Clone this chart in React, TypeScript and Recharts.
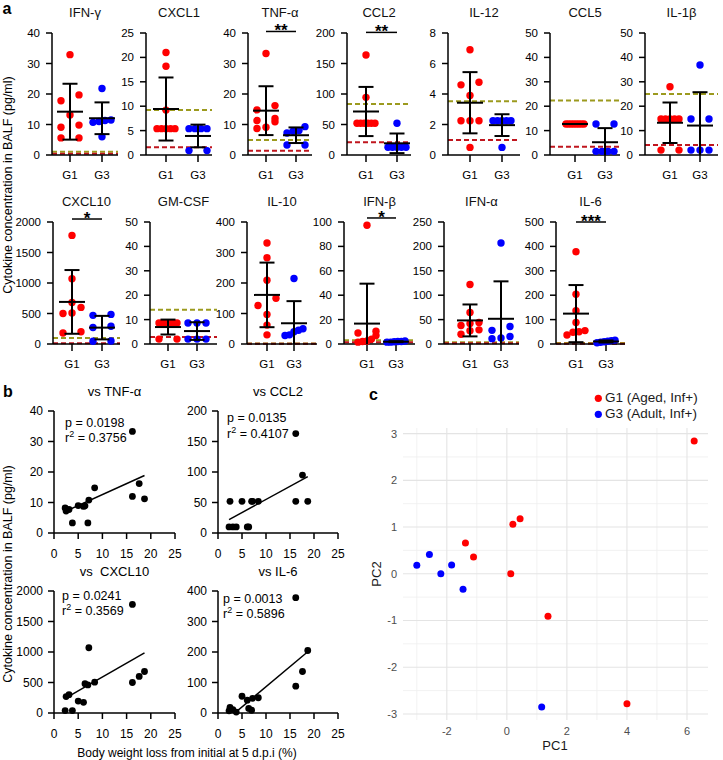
import { ScatterChart, Scatter, XAxis, YAxis, ReferenceLine } from "recharts";

const FONT = "'Liberation Sans', Arial, Helvetica, sans-serif";
const RED = "#ff0000";
const BLUE = "#0000ff";
const OLIVE = "#9c9a1e";
const MAROON = "#c0161e";

// ---------- a: BALF cytokines, G1 vs G3 ----------
const groupLabels = ["G1", "G3"];
const cytokines = ["IFN-γ", "CXCL1", "TNF-α", "CCL2", "IL-12", "CCL5", "IL-1β", "CXCL10", "GM-CSF", "IL-10", "IFN-β", "IFN-α", "IL-6"];
const yMax = [40, 25, 40, 200, 8, 50, 50, 2000, 50, 400, 100, 250, 500];
const yStep = [10, 5, 10, 50, 2, 10, 10, 500, 10, 100, 20, 50, 100];

const g1Values: number[][] = [
  [32.9, 19.7, 17.8, 13.1, 9.8, 9.1, 5.6, 5.6],
  [21.0, 18.2, 9.2, 5.4, 5.4, 5.4, 5.4, 5.4],
  [33.3, 16.2, 14.8, 12.0, 11.3, 10.9, 9.1, 8.7],
  [164, 94.5, 52, 52, 52, 52, 52, 52],
  [6.9, 4.77, 4.6, 3.9, 2.25, 2.25, 2.25, 0.5],
  [12.7, 12.7, 12.7, 12.7, 12.7, 12.7, 12.7, 12.7],
  [28, 14.75, 14.75, 14.75, 14.75, 14.75, 2, 2],
  [1780, 1070, 680, 600, 510, 500, 200, 180],
  [8.6, 8.6, 8.6, 8.6, 8.6, 8.6, 2, 2],
  [331, 283, 209, 150, 126, 97, 62, 30],
  [97.3, 10.5, 9, 7, 4, 2.5, 2, 1.5],
  [122, 64.5, 44, 42, 38, 29, 27, 20],
  [378, 204, 136, 88, 55, 50, 48, 37],
];
const g3Values: number[][] = [
  [21.8, 11.5, 11.3, 11.0, 10.7, 6.0],
  [5.4, 5.4, 5.4, 5.4, 0.9, 0.9],
  [9.3, 8.0, 7.8, 7.2, 3.3, 3.3],
  [52, 12.6, 12.6, 12.6, 12.6, 12.6],
  [2.25, 2.25, 2.25, 2.25, 2.25, 0.5],
  [12.7, 12.7, 1.5, 1.5, 1.5, 1.5],
  [36.9, 14.75, 14.75, 2, 2, 2],
  [485, 470, 290, 270, 50, 45],
  [8.6, 8.6, 8.6, 2, 2, 2],
  [215, 50, 45, 40, 30, 28],
  [2.5, 2, 2, 1.8, 1.5, 1.5],
  [207, 36, 28, 15.5, 12.5, 11],
  [16, 14, 11, 9, 7, 5],
];
// detection limits (dashed lines)
const upperLimit = [1.1, 9.2, 4.9, 83.6, 3.52, 22.3, 25, 98, 14, 2, 3, 3.5, 4];
const lowerLimit = [0.4, 1.6, 1.4, 20.8, 0.98, 3.4, 4.1, 11, 2.9, 1, 1.5, 1.4, 1.4];
const sigLabels = ["", "", "**", "**", "", "", "", "*", "", "", "*", "", "***"];
const sigLevel = [0, 0, 40.5, 201, 0, 0, 0, 2049, 0, 0, 103.3, 0, 500];

// ---------- b: cytokine vs body weight loss ----------
const weightLoss = [2.3, 2.5, 3.1, 3.8, 5.0, 6.1, 6.4, 7.0, 7.2, 8.4, 16.2, 16.2, 17.6, 18.7];
const tnfBalf = [8.2, 7.2, 7.7, 3.3, 9.0, 8.7, 8.9, 3.3, 10.8, 14.8, 33.3, 12.0, 16.2, 11.2];
const ccl2Balf = [10, 52, 10, 10, 52, 10, 10, 52, 52, 52, 163, 52, 95, 52];
const cxcl10Balf = [40, 270, 300, 40, 195, 175, 480, 460, 1070, 505, 1780, 500, 600, 680];
const il6Balf = [7, 18, 11, 3, 55, 42, 15, 9, 48, 50, 378, 88, 136, 205];
const fitTitles = ["vs TNF-α", "vs CCL2", "vs\u00a0 CXCL10", "vs IL-6"];
const fitMax = [40, 200, 2000, 400];
const fitStep = [10, 50, 500, 100];
const fitSlope = [0.72, 4.3, 45.5, 13.2];
const fitIntercept = [5.4, 12, 134, -46];
const fitP = ["0.0198", "0.0135", "0.0241", "0.0013"];
const fitR2 = ["0.3756", "0.4107", "0.3569", "0.5896"];
const weightTicks = [0, 5, 10, 15, 20, 25];

// ---------- c: PCA ----------
const pc1G1 = [6.24, 0.2, 0.44, -1.38, -1.11, 0.13, 1.37, 4.0];
const pc2G1 = [2.84, 1.06, 1.18, 0.66, 0.36, 0.0, -0.91, -2.78];
const pc1G3 = [-3.0, -2.58, -2.2, -1.84, -1.46, 1.16];
const pc2G3 = [0.18, 0.41, 0.0, 0.19, -0.33, -2.85];
const pcLegend = ["G1 (Aged, Inf+)", "G3 (Adult, Inf+)"];
const pc1Major = [-2, 0, 2, 4, 6];
const pc1Minor = [-3, -1, 1, 3, 5];
const pc2Major = [-3, -2, -1, 0, 1, 2, 3];
const pc2Minor = [-2.5, -1.5, -0.5, 0.5, 1.5, 2.5];

// ---------- layout ----------
// [y-axis x, G1 x, G3 x, x-axis end] in page pixels
const colTop = [[52, 70, 102, 118], [146, 166, 198, 212], [248, 266, 296, 312], [347, 366, 397, 411], [448, 470, 502, 520], [550, 575, 605, 620], [645, 670, 700, 718]];
const colBottom = [[53, 72, 102, 120], [150, 168, 197, 217], [247, 267, 294, 317], [344, 367, 396, 415], [444, 470, 501, 519], [556, 576, 606, 625]];
const PLOT_H = 122;
const A_YW = 42;
const A_MTOP = 22;
const A_XH = 30;
const DOT_R = 3.7;
const SPREAD = 9;
const MEAN_HALF = 13;
const CAP_HALF = 7.5;

// [plot left, plot top, plot width, p-text dx, p-text dy, r2-text dy]
const fitLayout = [
  [54, 411, 121, 11, 16, 31],
  [218, 411, 120, 9, 11, 27],
  [54, 591, 121, 8, 9, 24],
  [218, 591, 120, 5, 12, 27],
];

const ticksOf = (max: number, step: number) => {
  const out: number[] = [];
  for (let v = 0; v <= max + 1e-9; v += step) out.push(+v.toFixed(6));
  return out;
};

const meanSd = (vals: number[]) => {
  const m = vals.reduce((a, b) => a + b, 0) / vals.length;
  const v = vals.reduce((a, b) => a + (b - m) ** 2, 0) / (vals.length - 1);
  return { mean: m, sd: Math.sqrt(v) };
};

// rows of dots that would overlap are spread side by side
function swarm(values: number[], center: number, pxPerY: number, pxPerX: number) {
  const sorted = [...values].sort((a, b) => a - b);
  const rows: number[][] = [];
  for (const v of sorted) {
    const row = rows[rows.length - 1];
    if (row && (v - row[0]) * pxPerY < DOT_R * 2) row.push(v);
    else rows.push([v]);
  }
  const pts: { x: number; y: number }[] = [];
  rows.forEach((row) =>
    row.forEach((v, k) => {
      const off = row.length === 1 ? 0 : -SPREAD + (2 * SPREAD * k) / (row.length - 1);
      pts.push({ x: center + off / pxPerX, y: v });
    })
  );
  return pts;
}

const dot = (fill: string, r: number) => (p: any) => <circle cx={p.cx} cy={p.cy} r={r} fill={fill} />;

function statLines(id: string, g: number, vals: number[], pxPerX: number) {
  const { mean, sd } = meanSd(vals);
  const hw = MEAN_HALF / pxPerX;
  const cw = CAP_HALF / pxPerX;
  const segs = [
    [g - hw, mean, g + hw, mean],
    [g, mean - sd, g, mean + sd],
    [g - cw, mean + sd, g + cw, mean + sd],
    [g - cw, mean - sd, g + cw, mean - sd],
  ];
  return segs.map(([x1, y1, x2, y2], k) => (
    <ReferenceLine
      key={`${id}-${k}`}
      segment={[{ x: x1, y: y1 }, { x: x2, y: y2 }]}
      stroke="#000"
      strokeWidth={2}
      ifOverflow="hidden"
      zIndex={700}
    />
  ));
}

function colOf(i: number) {
  return i < 7 ? colTop[i] : colBottom[i - 7];
}

function DotPanel({ i }: { i: number }) {
  const [axisX, g1X, g3X, endX] = colOf(i);
  const plotTop = i < 7 ? 33 : 222;
  const unit = g3X - g1X;
  const lo = 1 - (g1X - axisX) / unit;
  const hi = 2 + (endX - g3X) / unit;
  const max = yMax[i];
  const pxPerY = PLOT_H / max;
  const g1 = swarm(g1Values[i], 1, pxPerY, unit);
  const g3 = swarm(g3Values[i], 2, pxPerY, unit);
  const plotW = endX - axisX;
  const axisStyle = { stroke: "#000", strokeWidth: 1.5 };
  return (
    <div style={{ position: "absolute", left: axisX - A_YW, top: plotTop - A_MTOP }}>
      <ScatterChart width={A_YW + plotW + 6} height={A_MTOP + PLOT_H + A_XH} margin={{ top: A_MTOP, right: 6, bottom: 0, left: 0 }}>
        <XAxis
          type="number"
          dataKey="x"
          domain={[lo, hi]}
          ticks={[1, 2]}
          interval={0}
          tickFormatter={(v) => (v === 1 ? groupLabels[0] : groupLabels[1])}
          height={A_XH}
          axisLine={axisStyle}
          tickLine={axisStyle}
          tickSize={7}
          tickMargin={9}
          tick={{ fontSize: 11.5, fill: "#000" }}
        />
        <YAxis
          type="number"
          dataKey="y"
          domain={[0, max]}
          ticks={ticksOf(max, yStep[i])}
          interval={0}
          width={A_YW}
          axisLine={axisStyle}
          tickLine={axisStyle}
          tickSize={6}
          tickMargin={6}
          tick={{ fontSize: 11.5, fill: "#000" }}
        />
        <ReferenceLine y={upperLimit[i]} stroke={OLIVE} strokeWidth={2} strokeDasharray="5 3" />
        <ReferenceLine y={lowerLimit[i]} stroke={MAROON} strokeWidth={2} strokeDasharray="5 3" />
        <Scatter data={g1} shape={dot(RED, DOT_R)} isAnimationActive={false} />
        <Scatter data={g3} shape={dot(BLUE, DOT_R)} isAnimationActive={false} />
        {statLines(`g1-${i}`, 1, g1Values[i], unit)}
        {statLines(`g3-${i}`, 2, g3Values[i], unit)}
        {sigLabels[i] && (
          <ReferenceLine
            segment={[{ x: 1, y: sigLevel[i] }, { x: 2, y: sigLevel[i] }]}
            stroke="#000"
            strokeWidth={1.5}
            ifOverflow="visible"
            label={{ value: sigLabels[i], position: "top", offset: -5, fontSize: 17, fontWeight: "bold", fill: "#000" }}
          />
        )}
      </ScatterChart>
    </div>
  );
}

const fitSeries = [tnfBalf, ccl2Balf, cxcl10Balf, il6Balf];
const B_YW = 45;
const B_MTOP = 8;
const B_XH = 32;

function FitPanel({ k }: { k: number }) {
  const [left, top, plotW] = fitLayout[k];
  const ys = fitSeries[k];
  const data = weightLoss.map((x, j) => ({ x, y: ys[j] }));
  const x0 = Math.min(...weightLoss);
  const x1 = Math.max(...weightLoss);
  const a = fitIntercept[k];
  const b = fitSlope[k];
  const axisStyle = { stroke: "#000", strokeWidth: 1.5 };
  return (
    <div style={{ position: "absolute", left: left - B_YW, top: top - B_MTOP }}>
      <ScatterChart width={B_YW + plotW + 10} height={B_MTOP + PLOT_H + B_XH} margin={{ top: B_MTOP, right: 10, bottom: 0, left: 0 }}>
        <XAxis
          type="number"
          dataKey="x"
          domain={[0, 25]}
          ticks={weightTicks}
          interval={0}
          height={B_XH}
          axisLine={axisStyle}
          tickLine={axisStyle}
          tickSize={6}
          tickMargin={10}
          tick={{ fontSize: 12, fill: "#000" }}
        />
        <YAxis
          type="number"
          dataKey="y"
          domain={[0, fitMax[k]]}
          ticks={ticksOf(fitMax[k], fitStep[k])}
          interval={0}
          width={B_YW}
          axisLine={axisStyle}
          tickLine={axisStyle}
          tickSize={6}
          tickMargin={5}
          tick={{ fontSize: 12, fill: "#000" }}
        />
        <Scatter data={data} shape={dot("#000", 3.4)} isAnimationActive={false} />
        <ReferenceLine
          segment={[{ x: x0, y: a + b * x0 }, { x: x1, y: a + b * x1 }]}
          stroke="#000"
          strokeWidth={1.5}
          ifOverflow="hidden"
        />
      </ScatterChart>
    </div>
  );
}

const C_LEFT = 403;
const C_TOP = 428;
const C_W = 305;
const C_H = 292;
const C_YW = 30;

function PcaPanel() {
  const g1 = pc1G1.map((x, j) => ({ x, y: pc2G1[j] }));
  const g3 = pc1G3.map((x, j) => ({ x, y: pc2G3[j] }));
  const tick = { fontSize: 11, fill: "#4d4d4d" };
  return (
    <div style={{ position: "absolute", left: C_LEFT - C_YW, top: C_TOP }}>
      <ScatterChart width={C_YW + C_W + 4} height={C_H + 24} margin={{ top: 0, right: 4, bottom: 0, left: 0 }}>
        <XAxis type="number" dataKey="x" domain={[-3.46, 6.7]} ticks={pc1Major} interval={0} height={24} axisLine={false} tickLine={false} tickSize={0} tickMargin={7} tick={tick} />
        <YAxis type="number" dataKey="y" domain={[-3.13, 3.12]} ticks={pc2Major} interval={0} width={C_YW} axisLine={false} tickLine={false} tickSize={0} tickMargin={6} tick={tick} />
        {pc1Minor.map((v) => <ReferenceLine key={`xm${v}`} x={v} stroke="#efefef" strokeWidth={0.8} />)}
        {pc2Minor.map((v) => <ReferenceLine key={`ym${v}`} y={v} stroke="#efefef" strokeWidth={0.8} />)}
        {pc1Major.map((v) => <ReferenceLine key={`xM${v}`} x={v} stroke="#e4e4e4" strokeWidth={1.1} />)}
        {pc2Major.map((v) => <ReferenceLine key={`yM${v}`} y={v} stroke="#e4e4e4" strokeWidth={1.1} />)}
        <Scatter data={g1} shape={dot(RED, 3.5)} isAnimationActive={false} />
        <Scatter data={g3} shape={dot(BLUE, 3.5)} isAnimationActive={false} />
      </ScatterChart>
    </div>
  );
}

export default function App() {
  const yLabel = "Cytokine concentration in BALF (pg/ml)";
  return (
    <div style={{ position: "absolute", left: 0, top: 0, width: 723, height: 760, background: "#fff", fontFamily: FONT, overflow: "hidden" }}>
      {cytokines.map((_, i) => (
        <DotPanel key={i} i={i} />
      ))}
      {fitSeries.map((_, k) => (
        <FitPanel key={k} k={k} />
      ))}
      <PcaPanel />

      <svg width={723} height={760} style={{ position: "absolute", left: 0, top: 0, pointerEvents: "none" }} fontFamily={FONT} fill="#000" fontWeight="normal">
        <text x={2.5} y={13.5} fontSize={16} fontWeight="bold">a</text>
        <text x={3} y={397} fontSize={16} fontWeight="bold">b</text>
        <text x={369} y={399.5} fontSize={16} fontWeight="bold">c</text>

        {cytokines.map((name, i) => {
          const [ax, , , end] = colOf(i);
          return (
            <text key={name} x={(ax + end) / 2} y={i < 7 ? 17 : 206} textAnchor="middle" fontSize={13} fill="#111">
              {name}
            </text>
          );
        })}
        <text transform="translate(12,185) rotate(-90)" textAnchor="middle" fontSize={12.5}>{yLabel}</text>
        <text transform="translate(12,574) rotate(-90)" textAnchor="middle" fontSize={12.5}>{yLabel}</text>

        {fitTitles.map((t, k) => {
          const [left, top, w, dx, dy, dy2] = fitLayout[k];
          return (
            <g key={t}>
              <text x={left + w / 2} y={top - 15} textAnchor="middle" fontSize={13}>{t}</text>
              <text x={left + dx} y={top + dy} fontSize={12.5}>p = {fitP[k]}</text>
              <text x={left + dx} y={top + dy2} fontSize={12.5}>
                r<tspan dy={-5} fontSize={9}>2</tspan>
                <tspan dy={5}> = {fitR2[k]}</tspan>
              </text>
            </g>
          );
        })}
        <text x={187} y={757} textAnchor="middle" fontSize={12}>Body weight loss from initial at 5 d.p.i (%)</text>

        <text x={555} y={750} textAnchor="middle" fontSize={13} fill="#1a1a1a">PC1</text>
        <text transform="translate(381,574) rotate(-90)" textAnchor="middle" fontSize={13} fill="#1a1a1a">PC2</text>
        <circle cx={598.3} cy={398.3} r={3.6} fill={RED} />
        <text x={605} y={402} fontSize={13.5} fill="#1a1a1a">{pcLegend[0]}</text>
        <circle cx={598.3} cy={414.3} r={3.6} fill={BLUE} />
        <text x={605} y={418} fontSize={13.5} fill="#1a1a1a">{pcLegend[1]}</text>
      </svg>
    </div>
  );
}
